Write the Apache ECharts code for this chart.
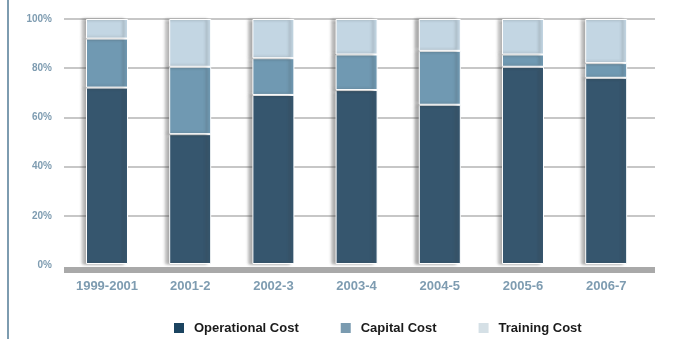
<!DOCTYPE html>
<html>
<head>
<meta charset="utf-8">
<script src="https://cdn.jsdelivr.net/npm/echarts@6/dist/echarts.min.js"></script>
<style>
  html, body { margin: 0; padding: 0; background: #ffffff; }
  #chart { width: 675px; height: 339px; }
</style>
</head>
<body>
<div id="chart"></div>
<script>
// Periods on the horizontal axis
const periods = ['1999-2001', '2001-2', '2002-3', '2003-4', '2004-5', '2005-6', '2006-7'];

// Share of total cost per period (%)
const operationalCost = [72, 53, 69, 71, 65, 80.5, 76];
const capitalCost = [20, 27.5, 15, 14.5, 22, 5, 6];
const trainingCost = [8, 19.5, 16, 14.5, 13, 14.5, 18];

// Percentage axis ticks
const yTicks = [0, 20, 40, 60, 80, 100];

const FONT = '"Liberation Sans", Arial, Helvetica, sans-serif';
const LABEL_BLUE = '#7e9cb1';

const barColors = ['#36566e', '#7099b2', '#c3d6e3'];
const legendColors = ['#1b4460', '#7a9bb0', '#d5e0e6'];

const chart = echarts.init(document.getElementById('chart'), null, { renderer: 'canvas' });

function barSeries(name, data, color) {
  return {
    name: name,
    type: 'bar',
    stack: 'cost',
    xAxisIndex: 0,
    yAxisIndex: 0,
    barWidth: 42,
    data: data,
    z: 3,
    itemStyle: {
      color: color,
      borderColor: '#ffffff',
      borderWidth: 1,
      shadowColor: 'rgba(60,60,60,0.45)',
      shadowBlur: 3,
      shadowOffsetX: -4,
      shadowOffsetY: 0
    },
    emphasis: { disabled: true }
  };
}

chart.setOption({
  animation: false,
  backgroundColor: '#ffffff',
  graphic: [
    {
      type: 'line',
      shape: { x1: 8, y1: 0, x2: 8, y2: 339 },
      style: { stroke: '#7d9cb0', lineWidth: 2 },
      silent: true
    }
  ],
  legend: {
    data: [
      { name: 'Operational Cost', itemStyle: { color: legendColors[0] } },
      { name: 'Capital Cost', itemStyle: { color: legendColors[1] } },
      { name: 'Training Cost', itemStyle: { color: legendColors[2] } }
    ],
    left: 172,
    top: 321,
    padding: 0,
    icon: 'rect',
    itemWidth: 12,
    itemHeight: 12,
    itemGap: 40,
    selectedMode: false,
    textStyle: {
      fontFamily: FONT,
      fontSize: 13,
      fontWeight: 'bold',
      color: '#1a1a1a',
      padding: [0, 0, 0, 4]
    }
  },
  grid: [
    // bars
    { left: 65.4, right: 27.2, top: 19, height: 245 },
    // gridlines and percentage labels
    { left: 64, right: 20, top: 19, height: 246 },
    // grey base band under the bars
    { left: 64, right: 20, top: 19, height: 251 }
  ],
  xAxis: [
    {
      type: 'category',
      gridIndex: 0,
      data: periods,
      axisLine: { show: false },
      axisTick: { show: false },
      axisLabel: {
        margin: 16,
        fontFamily: FONT,
        fontSize: 13,
        fontWeight: 'bold',
        color: LABEL_BLUE
      }
    },
    {
      type: 'category',
      gridIndex: 1,
      data: periods,
      show: false
    },
    {
      type: 'category',
      gridIndex: 2,
      data: periods,
      axisLine: { show: true, lineStyle: { color: '#a9a9a9', width: 6, cap: 'butt' } },
      axisTick: { show: false },
      axisLabel: { show: false },
      z: 1
    }
  ],
  yAxis: [
    {
      type: 'value',
      gridIndex: 0,
      min: 0,
      max: 100,
      interval: 20,
      axisLine: { show: false },
      axisTick: { show: false },
      axisLabel: { show: false },
      splitLine: { show: false }
    },
    {
      type: 'value',
      gridIndex: 1,
      min: yTicks[0],
      max: yTicks[yTicks.length - 1],
      interval: yTicks[1] - yTicks[0],
      axisLine: { show: false },
      axisTick: { show: false },
      axisLabel: {
        margin: 12,
        fontFamily: FONT,
        fontSize: 10,
        fontWeight: 'bold',
        color: LABEL_BLUE,
        formatter: '{value}%'
      },
      splitLine: {
        show: true,
        showMinLine: false,
        lineStyle: { color: '#b4b4b4', width: 1.5 }
      },
      z: 0
    },
    {
      type: 'value',
      gridIndex: 2,
      show: false
    }
  ],
  series: [
    barSeries('Operational Cost', operationalCost, barColors[0]),
    barSeries('Capital Cost', capitalCost, barColors[1]),
    barSeries('Training Cost', trainingCost, barColors[2])
  ]
});
</script>
</body>
</html>
